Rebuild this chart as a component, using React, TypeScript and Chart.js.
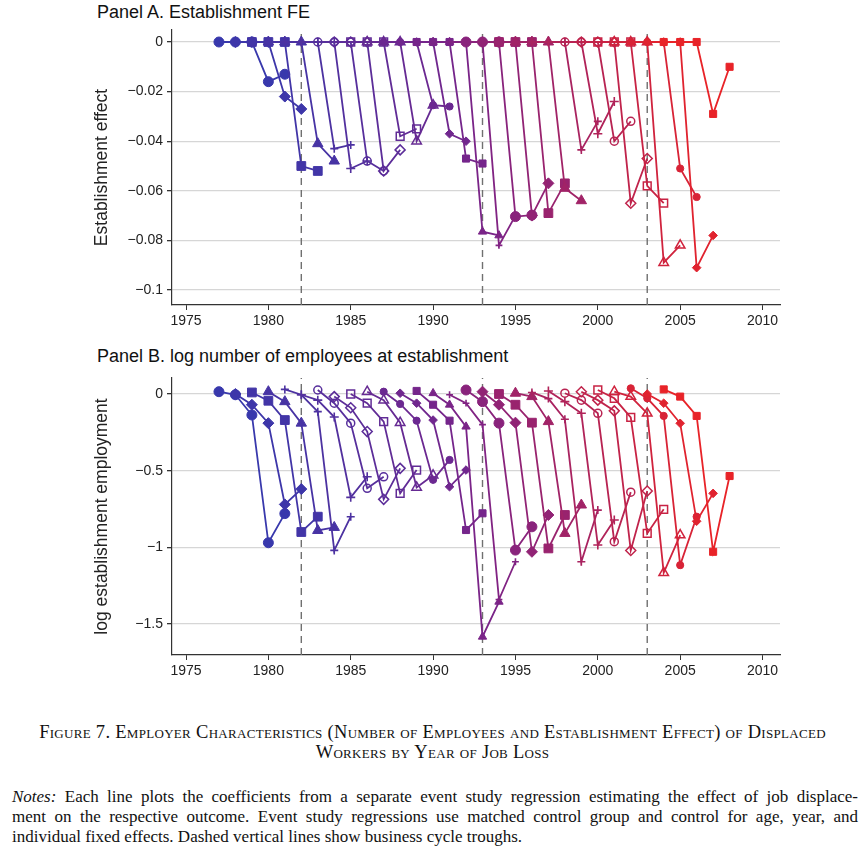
import React, { useEffect, useRef } from "react";
import { Chart, registerables } from "chart.js";
Chart.register(...registerables);

// ---------- DATA ----------
const jobLossYears = [
  1980, 1981, 1982, 1983, 1984, 1985, 1986, 1987, 1988, 1989,
  1990, 1991, 1992, 1993, 1994, 1995, 1996, 1997, 1998, 1999,
  2000, 2001, 2002, 2003, 2004, 2005, 2006, 2007,
];
const eventTimes = [-3, -2, -1, 0, 1];
const troughYears = [1982, 1993, 2003];
const xTicks = [1975, 1980, 1985, 1990, 1995, 2000, 2005, 2010];
const yTicksA = [0, -0.02, -0.04, -0.06, -0.08, -0.1];
const yTicksB = [0, -0.5, -1, -1.5];

// Panel A: establishment fixed effect, by event time (-3, -2, -1, 0, +1)
const estFE_m3 = [0, 0, 0, 0, 0, 0, 0, 0, 0, 0, 0, 0, 0, 0, 0, 0, 0, 0, 0, 0, 0, 0, 0, 0, 0, 0, 0, 0];
const estFE_m2 = [0, 0, 0, 0, 0, 0, 0, 0, 0, 0, 0, 0, 0, 0, 0, 0, 0, 0, 0, 0, 0, 0, 0, 0, 0, 0, 0, 0];
const estFE_m1 = [0, 0, 0, 0, 0, 0, 0, 0, 0, 0, 0, 0, 0, 0, 0, 0, 0, 0, 0, 0, 0, 0, 0, 0, 0, 0, 0, 0];
const estFE_0 = [
  -0.016, -0.022, -0.05, -0.041, -0.043, -0.051, -0.048, -0.052, -0.038, -0.04,
  -0.0255, -0.037, -0.047, -0.0765, -0.082, -0.0704, -0.07, -0.069, -0.059, -0.0435,
  -0.037, -0.04, -0.065, -0.058, -0.089, -0.051, -0.091, -0.029,
];
const estFE_p1 = [
  -0.013, -0.027, -0.052, -0.048, -0.0415, -0.048, -0.052, -0.0435, -0.035, -0.0255,
  -0.026, -0.04, -0.049, -0.078, -0.07, -0.0698, -0.057, -0.057, -0.064, -0.032,
  -0.024, -0.032, -0.047, -0.065, -0.082, -0.0625, -0.078, -0.01,
];

// Panel B: log establishment employment
const logEmp_m3 = [
  0.015, 0.0, 0.01, 0.015, 0.03, -0.005, 0.026, -0.017, 0.0, 0.015,
  0.015, 0.005, 0.02, 0.005, -0.005, 0.026, 0.015, 0.0, 0.005, 0.01,
  0.02, 0.005, 0.015, 0.026, 0.015, 0.037, 0.0, 0.03,
];
const logEmp_m2 = [
  -0.005, -0.07, -0.044, -0.05, -0.005, -0.04, -0.06, -0.09, -0.06, -0.04,
  -0.065, -0.06, -0.07, -0.07, -0.06, -0.05, -0.07, -0.07, -0.017, -0.03,
  -0.05, -0.04, -0.04, -0.028, -0.017, -0.028, -0.06, -0.017,
];
const logEmp_m1 = [
  -0.137, -0.19, -0.17, -0.19, -0.115, -0.15, -0.19, -0.245, -0.18, -0.187,
  -0.174, -0.17, -0.174, -0.213, -0.2, -0.19, -0.187, -0.187, -0.18, -0.165,
  -0.126, -0.126, -0.11, -0.152, -0.126, -0.143, -0.191, -0.143,
];
const logEmp_0 = [
  -0.97, -0.72, -0.9, -0.89, -1.02, -0.674, -0.615, -0.687, -0.648, -0.609,
  -0.56, -0.605, -0.887, -1.583, -1.34, -1.018, -1.029, -1.007, -0.909, -1.094,
  -0.985, -0.963, -1.02, -0.909, -1.166, -1.116, -0.83, -1.029,
];
const logEmp_p1 = [
  -0.78, -0.62, -0.8, -0.87, -0.8, -0.54, -0.54, -0.485, -0.496, -0.53,
  -0.43, -0.496, -0.778, -1.355, -1.094, -0.866, -0.789, -0.789, -0.724, -0.757,
  -0.822, -0.64, -0.633, -0.752, -0.92, -0.8, -0.648, -0.535,
];

// ---------- STYLE ----------
type Marker = { style: string; r: number; hollow: boolean };
const markerCycle: Marker[] = [
  { style: "circle", r: 5, hollow: false },
  { style: "rectRot", r: 5.5, hollow: false },
  { style: "rect", r: 6.2, hollow: false },
  { style: "triangle", r: 6, hollow: false },
  { style: "cross", r: 4, hollow: false },
  { style: "cross", r: 4.5, hollow: false },
  { style: "circle", r: 4, hollow: true },
  { style: "rectRot", r: 5, hollow: true },
  { style: "rect", r: 5.5, hollow: true },
  { style: "triangle", r: 5.5, hollow: true },
  { style: "circle", r: 3.6, hollow: false },
  { style: "rectRot", r: 4.3, hollow: false },
  { style: "rect", r: 5, hollow: false },
  { style: "triangle", r: 4.8, hollow: false },
  { style: "cross", r: 3.4, hollow: false },
];

const colorStops = [
  [56, 56, 172],
  [125, 35, 135],
  [232, 35, 40],
];
function lineColor(i: number, n: number) {
  const t = n <= 1 ? 0 : i / (n - 1);
  const seg = t < 0.5 ? 0 : 1;
  const lt = t < 0.5 ? t * 2 : (t - 0.5) * 2;
  const a = colorStops[seg];
  const b = colorStops[seg + 1];
  const c = a.map((v, k) => Math.round(v + (b[k] - v) * lt));
  return `rgb(${c[0]},${c[1]},${c[2]})`;
}

const SANS = "'Liberation Sans', Arial, sans-serif";
const SERIF = "'Liberation Serif', 'Times New Roman', serif";
const AXIS = "#333333";
const GRID = "#d6d6d6";

function fmtTick(v: number) {
  if (v === 0) return "0";
  return (v < 0 ? "\u2212" : "") + String(Math.abs(v));
}

type PanelCfg = {
  series: number[][];
  yMin: number;
  yMax: number;
  yTicks: number[];
  yTitle: string;
  padTop: number;
};

function buildChart(canvas: HTMLCanvasElement, cfg: PanelCfg) {
  const n = jobLossYears.length;
  const datasets: any[] = [];
  jobLossYears.forEach((c, i) => {
    const m = markerCycle[i % markerCycle.length];
    const col = lineColor(i, n);
    datasets.push({
      data: eventTimes.map((e, k) => ({ x: c + e, y: cfg.series[k][i] })),
      borderColor: col,
      borderWidth: 1.8,
      pointStyle: m.style,
      pointRadius: m.r,
      pointBorderWidth: m.hollow ? 1.5 : m.style.startsWith("cross") ? 1.6 : 1,
      pointBackgroundColor: m.hollow ? "rgba(255,255,255,0)" : col,
      pointBorderColor: col,
      fill: false,
      tension: 0,
      order: n - i,
    });
  });
  troughYears.forEach((yr) => {
    datasets.push({
      data: [
        { x: yr, y: cfg.yMin },
        { x: yr, y: cfg.yMax },
      ],
      borderColor: "#707070",
      borderWidth: 1.4,
      borderDash: [7, 5],
      pointRadius: 0,
      fill: false,
      order: 1000,
    });
  });

  return new Chart(canvas, {
    type: "line",
    data: { datasets },
    options: {
      animation: false,
      responsive: false,
      events: [],
      layout: { padding: { left: 0, right: 85, top: cfg.padTop, bottom: 5 } },
      plugins: { legend: { display: false }, tooltip: { enabled: false } },
      scales: {
        x: {
          type: "linear",
          min: 1974.15,
          max: 2011.06,
          afterBuildTicks: (s: any) => {
            s.ticks = xTicks.map((v) => ({ value: v }));
          },
          afterFit: (s: any) => {
            s.height = 30;
          },
          grid: {
            drawOnChartArea: false,
            drawTicks: true,
            tickLength: 5,
            tickColor: AXIS,
            color: AXIS,
          },
          border: { color: AXIS, width: 1.2 },
          ticks: {
            autoSkip: false,
            maxRotation: 0,
            padding: 3,
            color: "#222",
            font: { family: SANS, size: 14 },
            callback: (v: any) => String(v),
          },
        },
        y: {
          type: "linear",
          min: cfg.yMin,
          max: cfg.yMax,
          afterBuildTicks: (s: any) => {
            s.ticks = cfg.yTicks.map((v) => ({ value: v }));
          },
          afterFit: (s: any) => {
            s.width = 172;
          },
          grid: {
            color: GRID,
            lineWidth: 1.3,
            drawTicks: true,
            tickLength: 5,
            tickColor: AXIS,
          },
          border: { color: AXIS, width: 1.2 },
          ticks: {
            autoSkip: false,
            padding: 4,
            color: "#222",
            font: { family: SANS, size: 14 },
            callback: (v: any) => fmtTick(Number(v)),
          },
          title: {
            display: true,
            text: cfg.yTitle,
            color: "#222",
            font: { family: SANS, size: 17.5 },
            padding: { top: 92, bottom: 0 },
          },
        },
      },
    },
  } as any);
}

function Panel({ cfg, top, height }: { cfg: PanelCfg; top: number; height: number }) {
  const ref = useRef<HTMLCanvasElement | null>(null);
  useEffect(() => {
    if (!ref.current) return;
    const ch = buildChart(ref.current, cfg);
    return () => ch.destroy();
  }, []);
  return (
    <canvas
      ref={ref}
      width={865}
      height={height}
      style={{ position: "absolute", left: 0, top, width: 865, height }}
    />
  );
}

const panelA: PanelCfg = {
  series: [estFE_m3, estFE_m2, estFE_m1, estFE_0, estFE_p1],
  yMin: -0.10605,
  yMax: 0.00484,
  yTicks: yTicksA,
  yTitle: "Establishment effect",
  padTop: 30,
};
const panelB: PanelCfg = {
  series: [logEmp_m3, logEmp_m2, logEmp_m1, logEmp_0, logEmp_p1],
  yMin: -1.702,
  yMax: 0.1043,
  yTicks: yTicksB,
  yTitle: "log establishment employment",
  padTop: 33,
};

export default function App() {
  const titleStyle: React.CSSProperties = {
    position: "absolute",
    left: 97,
    fontFamily: SANS,
    fontSize: 18,
    color: "#111",
    whiteSpace: "nowrap",
    lineHeight: "20px",
  };
  const noteLine: React.CSSProperties = {
    textAlign: "justify",
    textAlignLast: "justify" as any,
    whiteSpace: "nowrap",
    height: 20,
  };
  return (
    <div
      style={{
        position: "absolute",
        left: 0,
        top: 0,
        width: 865,
        height: 850,
        background: "#fff",
        overflow: "hidden",
      }}
    >
      <div style={{ ...titleStyle, top: 2 }}>Panel A. Establishment FE</div>
      <Panel cfg={panelA} top={0} height={340} />
      <div style={{ ...titleStyle, top: 346 }}>Panel B. log number of employees at establishment</div>
      <Panel cfg={panelB} top={345} height={345} />
      <div
        style={{
          position: "absolute",
          left: 0,
          width: 865,
          top: 722,
          textAlign: "center",
          fontFamily: SERIF,
          fontSize: 18.5,
          letterSpacing: 0.3,
          lineHeight: "20px",
          fontVariant: "small-caps",
          color: "#111",
        }}
      >
        <div>Figure 7. Employer Characteristics (Number of Employees and Establishment Effect) of Displaced</div>
        <div>Workers by Year of Job Loss</div>
      </div>
      <div
        style={{
          position: "absolute",
          left: 12,
          width: 846,
          top: 787,
          fontFamily: SERIF,
          fontSize: 17,
          lineHeight: "20px",
          color: "#111",
        }}
      >
        <div style={noteLine}>
          <i>Notes:</i> Each line plots the coefficients from a separate event study regression estimating the effect of job displace-
        </div>
        <div style={noteLine}>
          ment on the respective outcome. Event study regressions use matched control group and control for age, year, and
        </div>
        <div style={{ height: 20, whiteSpace: "nowrap" }}>
          individual fixed effects. Dashed vertical lines show business cycle troughs.
        </div>
      </div>
    </div>
  );
}
